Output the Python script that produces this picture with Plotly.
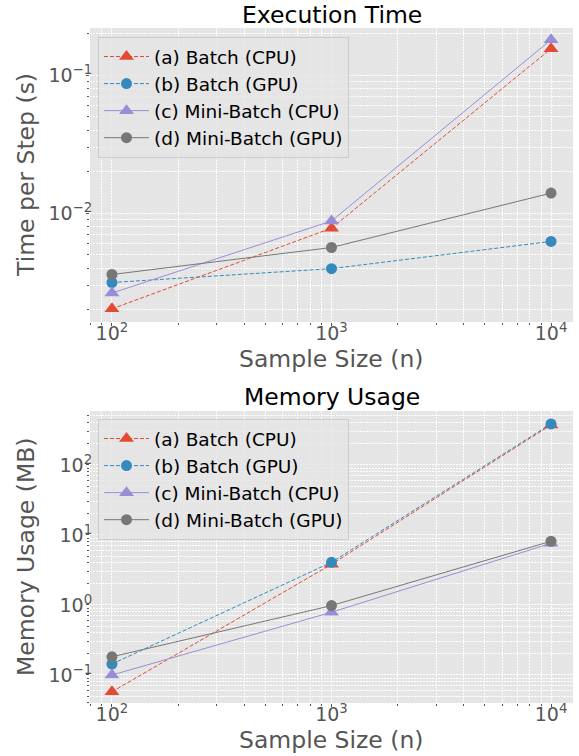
import plotly.graph_objects as go
from plotly.subplots import make_subplots

# ---- data ----
sample_sizes = [100, 1000, 10000]
series_names = ["(a) Batch (CPU)", "(b) Batch (GPU)", "(c) Mini-Batch (CPU)", "(d) Mini-Batch (GPU)"]

time_batch_cpu = [0.00203, 0.0078, 0.156]
time_batch_gpu = [0.00315, 0.00397, 0.00625]
time_mini_cpu = [0.00264, 0.00879, 0.181]
time_mini_gpu = [0.0036, 0.00565, 0.014]

mem_batch_cpu = [0.0575, 3.81, 373.0]
mem_batch_gpu = [0.1435, 4.07, 385.0]
mem_mini_cpu = [0.1, 0.787, 7.6]
mem_mini_gpu = [0.182, 0.98, 8.13]

x_major = [100, 1000, 10000]
x_major_text = ["10<sup>2</sup>", "10<sup>3</sup>", "10<sup>4</sup>"]
y1_major = [0.01, 0.1]
y1_major_text = ["10<sup>−2</sup>", "10<sup>−1</sup>"]
y2_major = [0.1, 1, 10, 100]
y2_major_text = ["10<sup>−1</sup>", "10<sup>0</sup>", "10<sup>1</sup>", "10<sup>2</sup>"]

colors = ["#E24A33", "#348ABD", "#988ED5", "#777777"]
symbols = ["triangle-up", "circle", "triangle-up", "circle"]
dashes = ["4px,2px", "4px,2px", "solid", "solid"]


def minor_vals(lo_exp, hi_exp, lo, hi):
    vals = []
    for e in range(lo_exp, hi_exp + 1):
        for m in range(2, 10):
            v = m * 10 ** e
            if lo <= v <= hi:
                vals.append(v)
    return vals


fig = make_subplots(rows=2, cols=1)

time_sets = [time_batch_cpu, time_batch_gpu, time_mini_cpu, time_mini_gpu]
mem_sets = [mem_batch_cpu, mem_batch_gpu, mem_mini_cpu, mem_mini_gpu]

for row, sets, leg in [(1, time_sets, "legend"), (2, mem_sets, "legend2")]:
    for i in range(4):
        msize = 13 if symbols[i] == "triangle-up" else 11
        fig.add_trace(go.Scatter(
            x=sample_sizes, y=sets[i], name=series_names[i], mode="lines+markers",
            line=dict(color=colors[i], width=1, dash=dashes[i]),
            marker=dict(symbol=symbols[i], size=msize, color=colors[i], line=dict(width=0)),
            legend=leg,
        ), row=row, col=1)

W, H = 579, 756
ml, mr, mt, mb = 90, 6, 28, 53
ph = H - mt - mb
pw = W - ml - mr


def py(pix):
    return (H - mb - pix) / ph


def px(pix):
    return (pix - ml) / pw


GRID_DASH = "2px,1px"
grid_common = dict(
    showgrid=True, gridcolor="white", gridwidth=1, griddash=GRID_DASH,
    ticks="outside", ticklen=3, tickcolor="#555555", tickwidth=1,
    showline=False, tickfont=dict(family="DejaVu Sans", size=19, color="#555555"),
)


def minor_cfg(vals):
    return dict(tickmode="array", tickvals=vals, showgrid=True, gridcolor="white",
                griddash=GRID_DASH, gridwidth=1, ticks="outside", ticklen=2, tickcolor="#555555")


xr = [1.9, 4.1]
x_minor = minor_vals(1, 4, 10 ** xr[0], 10 ** xr[1])
for ax in ["xaxis", "xaxis2"]:
    fig.update_layout({ax: dict(
        type="log", range=xr, tickmode="array", tickvals=x_major, ticktext=x_major_text,
        ticklabelstandoff=-9, minor=minor_cfg(x_minor), **grid_common)})

y1r = [-2.788, -0.657]
y2r = [-1.40, 2.77]
fig.update_layout(yaxis=dict(
    type="log", range=y1r, tickmode="array", tickvals=y1_major, ticktext=y1_major_text,
    domain=[py(322), 1.0], ticklabelstandoff=-10,
    minor=minor_cfg(minor_vals(-3, -1, 10 ** y1r[0], 10 ** y1r[1])),
    **grid_common))
fig.update_layout(yaxis2=dict(
    type="log", range=y2r, tickmode="array", tickvals=y2_major, ticktext=y2_major_text,
    domain=[0.0, py(411)], ticklabelstandoff=-10,
    minor=minor_cfg(minor_vals(-2, 2, 10 ** y2r[0], 10 ** y2r[1])),
    **grid_common))

legend_common = dict(
    bgcolor="rgba(229,229,229,0.8)", bordercolor="#CCCCCC", borderwidth=1,
    font=dict(family="DejaVu Sans", size=18.5, color="black"),
    xanchor="left", yanchor="top", itemwidth=45,
)

fig.update_layout(
    width=W, height=H,
    margin=dict(l=ml, r=mr, t=mt, b=mb),
    paper_bgcolor="white", plot_bgcolor="#E5E5E5",
    font=dict(family="DejaVu Sans"),
    legend=dict(x=px(98), y=py(37), **legend_common),
    legend2=dict(x=px(98), y=py(419), **legend_common),
    showlegend=True,
)

TITLE = 23.5
ann = []
ann.append(dict(text="Execution Time", x=0.5, y=py(15), xref="paper", yref="paper",
                showarrow=False, font=dict(size=TITLE, color="black"), xanchor="center", yanchor="middle"))
ann.append(dict(text="Memory Usage", x=0.5, y=py(397), xref="paper", yref="paper",
                showarrow=False, font=dict(size=TITLE, color="black"), xanchor="center", yanchor="middle"))
ann.append(dict(text="Sample Size (n)", x=0.5, y=py(359), xref="paper", yref="paper",
                showarrow=False, font=dict(size=TITLE, color="#555555"), xanchor="center", yanchor="middle"))
ann.append(dict(text="Sample Size (n)", x=0.5, y=py(740), xref="paper", yref="paper",
                showarrow=False, font=dict(size=TITLE, color="#555555"), xanchor="center", yanchor="middle"))
ann.append(dict(text="Time per Step (s)", x=px(26), y=py(175), xref="paper", yref="paper",
                showarrow=False, font=dict(size=TITLE, color="#555555"), textangle=-90,
                xanchor="center", yanchor="middle"))
ann.append(dict(text="Memory Usage (MB)", x=px(26), y=py(557), xref="paper", yref="paper",
                showarrow=False, font=dict(size=TITLE, color="#555555"), textangle=-90,
                xanchor="center", yanchor="middle"))
fig.update_layout(annotations=ann)

fig.write_html("out.html", config={"displayModeBar": False},
               post_script="document.body.style.margin='0px';")
